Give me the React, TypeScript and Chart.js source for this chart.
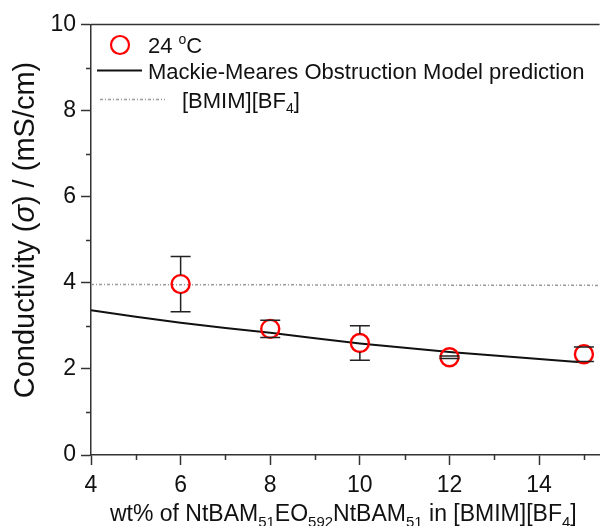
import React, { useEffect, useRef } from 'react';
import { Chart, registerables } from 'chart.js';

Chart.register(...registerables);

// Measured conductivity at 24 °C
const wtPercent = [6, 8, 10, 12, 15];
const conductivity = [3.97, 2.93, 2.6, 2.27, 2.34];
const conductivityErr = [0.64, 0.2, 0.4, 0.03, 0.17];

// Mackie-Meares obstruction model prediction
const modelWt = [4, 5, 6, 7, 8, 9, 10, 11, 12, 13, 14, 15];
const modelSigma = [3.36, 3.21, 3.07, 2.95, 2.84, 2.71, 2.59, 2.49, 2.39, 2.31, 2.23, 2.15];

// Neat ionic liquid reference level
const neatWt = [4, 15.35];
const neatSigma = [3.96, 3.94];

const X_MIN = 4;
const X_MAX = 15.35;
const Y_MIN = 0;
const Y_MAX = 10;
const X_MINOR = [5, 7, 9, 11, 13, 15];
const Y_MINOR = [1, 3, 5, 7, 9];

const FONT = '"Liberation Sans", Arial, Helvetica, sans-serif';
const INK = '#111111';
const AXIS = '#333333';

type Part = { t: string; size: number; dy?: number; italic?: boolean };

function setFont(ctx: CanvasRenderingContext2D, p: Part) {
  ctx.font = `${p.italic ? 'italic ' : ''}${p.size}px ${FONT}`;
}

function drawRich(
  ctx: CanvasRenderingContext2D,
  parts: Part[],
  x: number,
  y: number,
  align: 'left' | 'center'
) {
  let total = 0;
  for (const p of parts) {
    setFont(ctx, p);
    total += ctx.measureText(p.t).width;
  }
  let cx = align === 'center' ? x - total / 2 : x;
  ctx.textAlign = 'left';
  ctx.textBaseline = 'alphabetic';
  for (const p of parts) {
    setFont(ctx, p);
    ctx.fillText(p.t, cx, y + (p.dy || 0));
    cx += ctx.measureText(p.t).width;
  }
}

const MARKER_R = 9;

const decorations = {
  id: 'decorations',
  afterDatasetsDraw(chart: any) {
    const ctx: CanvasRenderingContext2D = chart.ctx;
    const ys = chart.scales.y;
    const meta = chart.getDatasetMeta(0);
    ctx.save();
    ctx.strokeStyle = '#222222';
    ctx.lineWidth = 1.5;
    meta.data.forEach((pt: any, i: number) => {
      const cx = pt.x;
      const cy = pt.y;
      const top = ys.getPixelForValue(conductivity[i] + conductivityErr[i]);
      const bot = ys.getPixelForValue(conductivity[i] - conductivityErr[i]);
      ctx.beginPath();
      if (top < cy - MARKER_R) {
        ctx.moveTo(cx, top);
        ctx.lineTo(cx, cy - MARKER_R);
      }
      if (bot > cy + MARKER_R) {
        ctx.moveTo(cx, cy + MARKER_R);
        ctx.lineTo(cx, bot);
      }
      ctx.moveTo(cx - 10, top);
      ctx.lineTo(cx + 10, top);
      ctx.moveTo(cx - 10, bot);
      ctx.lineTo(cx + 10, bot);
      ctx.stroke();
    });
    ctx.restore();
  },
  afterDraw(chart: any) {
    const ctx: CanvasRenderingContext2D = chart.ctx;
    const area = chart.chartArea;
    const xs = chart.scales.x;
    const ys = chart.scales.y;
    ctx.save();

    // top frame line
    ctx.strokeStyle = AXIS;
    ctx.lineWidth = 1.5;
    ctx.beginPath();
    ctx.moveTo(area.left, area.top);
    ctx.lineTo(area.right, area.top);
    ctx.stroke();

    // minor ticks
    ctx.lineWidth = 1.5;
    ctx.beginPath();
    for (const v of X_MINOR) {
      const px = Math.round(xs.getPixelForValue(v)) + 0.5;
      ctx.moveTo(px, area.bottom);
      ctx.lineTo(px, area.bottom + 5);
    }
    for (const v of Y_MINOR) {
      const py = Math.round(ys.getPixelForValue(v)) + 0.5;
      ctx.moveTo(area.left, py);
      ctx.lineTo(area.left - 5, py);
    }
    ctx.stroke();

    ctx.fillStyle = INK;

    // x-axis title
    drawRich(
      ctx,
      [
        { t: 'wt% of NtBAM', size: 23 },
        { t: '51', size: 15, dy: 6 },
        { t: 'EO', size: 23 },
        { t: '592', size: 15, dy: 6 },
        { t: 'NtBAM', size: 23 },
        { t: '51', size: 15, dy: 6 },
        { t: ' in [BMIM][BF', size: 23 },
        { t: '4', size: 15, dy: 6 },
        { t: ']', size: 23 },
      ],
      (area.left + area.right) / 2 - 2,
      521,
      'center'
    );

    // y-axis title
    ctx.save();
    ctx.translate(34, 230);
    ctx.rotate(-Math.PI / 2);
    drawRich(
      ctx,
      [
        { t: 'Conductivity (', size: 29 },
        { t: 'σ', size: 29, italic: true },
        { t: ') / (mS/cm)', size: 29 },
      ],
      0,
      0,
      'center'
    );
    ctx.restore();

    // legend
    const lx = area.left;
    const ly = area.top;
    ctx.strokeStyle = '#ff0000';
    ctx.lineWidth = 2.2;
    ctx.beginPath();
    ctx.arc(lx + 29, ly + 20.5, MARKER_R, 0, Math.PI * 2);
    ctx.stroke();
    drawRich(
      ctx,
      [
        { t: '24 ', size: 22 },
        { t: 'o', size: 14, dy: -9 },
        { t: 'C', size: 22 },
      ],
      lx + 57,
      ly + 28,
      'left'
    );

    ctx.strokeStyle = '#111111';
    ctx.lineWidth = 2;
    ctx.beginPath();
    ctx.moveTo(lx + 6, ly + 46);
    ctx.lineTo(lx + 51, ly + 46);
    ctx.stroke();
    drawRich(ctx, [{ t: 'Mackie-Meares Obstruction Model prediction', size: 22 }], lx + 57, ly + 54, 'left');

    ctx.strokeStyle = '#9a9a9a';
    ctx.lineWidth = 1.5;
    ctx.setLineDash([3, 2, 1, 2]);
    ctx.beginPath();
    ctx.moveTo(lx + 9, ly + 75);
    ctx.lineTo(lx + 74, ly + 75);
    ctx.stroke();
    ctx.setLineDash([]);
    drawRich(
      ctx,
      [
        { t: '[BMIM][BF', size: 22 },
        { t: '4', size: 14, dy: 5 },
        { t: ']', size: 22 },
      ],
      lx + 91,
      ly + 83,
      'left'
    );

    ctx.restore();
  },
};

export default function App() {
  const canvasRef = useRef<HTMLCanvasElement | null>(null);

  useEffect(() => {
    const canvas = canvasRef.current;
    if (!canvas) return;

    const chart = new Chart(canvas, {
      type: 'scatter',
      data: {
        datasets: [
          {
            label: '24 °C',
            data: wtPercent.map((x, i) => ({ x, y: conductivity[i] })),
            showLine: false,
            pointStyle: 'circle',
            pointRadius: MARKER_R,
            pointBorderWidth: 2.4,
            pointBorderColor: '#ff0000',
            pointBackgroundColor: 'rgba(0,0,0,0)',
            order: 0,
          },
          {
            label: 'Mackie-Meares Obstruction Model prediction',
            data: modelWt.map((x, i) => ({ x, y: modelSigma[i] })),
            showLine: true,
            borderColor: '#111111',
            borderWidth: 2,
            pointRadius: 0,
            order: 1,
          },
          {
            label: '[BMIM][BF4]',
            data: neatWt.map((x, i) => ({ x, y: neatSigma[i] })),
            showLine: true,
            borderColor: '#9a9a9a',
            borderWidth: 1.5,
            borderDash: [3, 2, 1, 2],
            pointRadius: 0,
            order: 2,
          },
        ],
      },
      options: {
        animation: false,
        responsive: false,
        devicePixelRatio: 1,
        layout: { padding: { top: 24.5, right: 0, bottom: 0, left: 0 } },
        plugins: {
          legend: { display: false },
          tooltip: { enabled: false },
        },
        scales: {
          x: {
            type: 'linear',
            min: X_MIN,
            max: X_MAX,
            afterFit: (scale: any) => {
              scale.height = 71;
            },
            ticks: {
              stepSize: 2,
              includeBounds: false,
              autoSkip: false,
              maxRotation: 0,
              padding: 7,
              color: INK,
              font: { family: FONT, size: 23 },
              callback: (v: any) => (Number.isInteger(v) ? String(v) : ''),
            },
            grid: {
              drawOnChartArea: false,
              drawTicks: true,
              tickLength: 10,
              tickWidth: 1.5,
              tickColor: AXIS,
            },
            border: { display: true, color: AXIS, width: 1.5 },
          },
          y: {
            type: 'linear',
            min: Y_MIN,
            max: Y_MAX,
            afterFit: (scale: any) => {
              scale.width = 91;
            },
            ticks: {
              stepSize: 2,
              autoSkip: false,
              padding: 5,
              color: INK,
              font: { family: FONT, size: 23 },
            },
            grid: {
              drawOnChartArea: false,
              drawTicks: true,
              tickLength: 10,
              tickWidth: 1.5,
              tickColor: AXIS,
            },
            border: { display: true, color: AXIS, width: 1.5 },
          },
        },
      },
      plugins: [decorations],
    });

    return () => chart.destroy();
  }, []);

  return (
    <div style={{ position: 'absolute', left: 0, top: 0, width: 611, height: 526, background: '#ffffff' }}>
      <canvas ref={canvasRef} width={611} height={526} style={{ display: 'block' }} />
    </div>
  );
}
